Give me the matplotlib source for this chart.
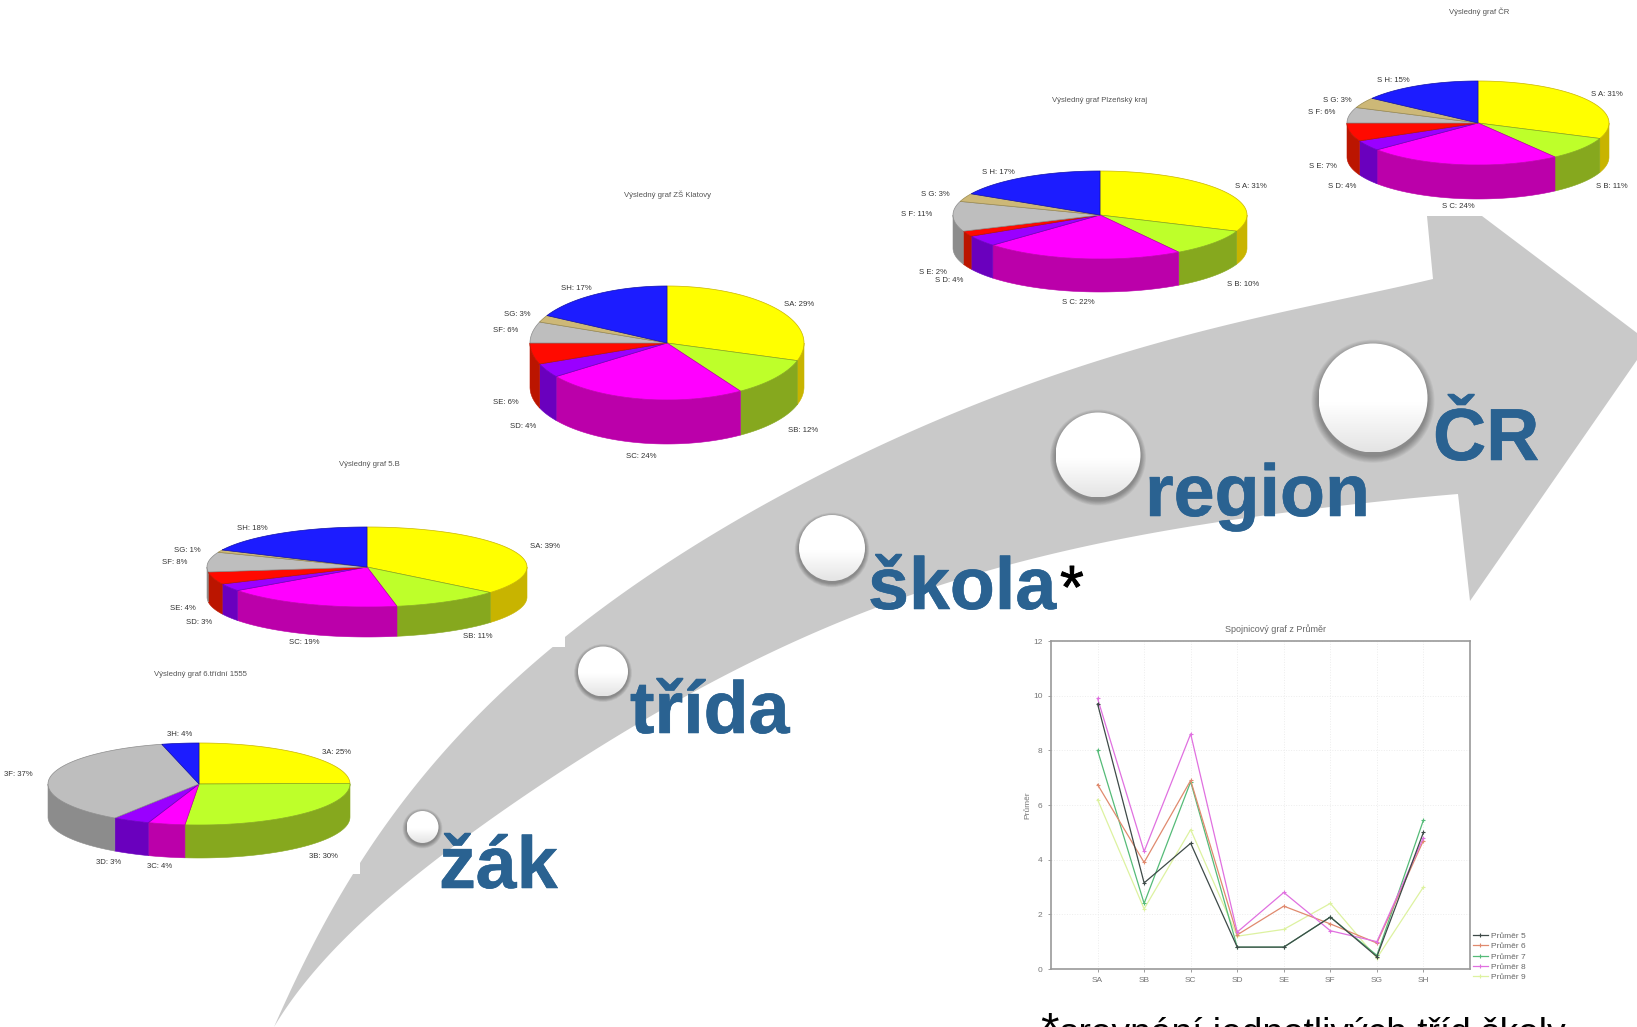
import numpy as np
import matplotlib
matplotlib.use("Agg")
import matplotlib.pyplot as plt
import matplotlib.patheffects as pe
from matplotlib.patches import Polygon, Circle, Rectangle
from matplotlib.colors import LinearSegmentedColormap

plt.rcParams['font.family'] = ['Liberation Sans', 'DejaVu Sans']

# ---------- data ----------
codes6 = ['A', 'B', 'C', 'D', 'F', 'H']
codes8 = ['A', 'B', 'C', 'D', 'E', 'F', 'G', 'H']

zak_values = [25, 27, 4, 4, 37, 4]
zak_pcts = [25, 30, 4, 3, 37, 4]
trida_values = [36, 11, 18, 3, 5, 8, 1, 18]
trida_pcts = [39, 11, 19, 3, 4, 8, 1, 18]
skola_values = [30, 11, 24, 4, 6, 6, 2, 17]
skola_pcts = [29, 12, 24, 4, 6, 6, 3, 17]
region_values = [31, 10, 22, 4, 2, 11, 3, 17]
region_pcts = [31, 10, 22, 4, 2, 11, 3, 17]
cr_values = [31, 9, 24, 4, 7, 6, 4, 15]
cr_pcts = [31, 11, 24, 4, 7, 6, 3, 15]

zak_title = 'Výsledný graf 6.třídní 1555'
trida_title = 'Výsledný graf 5.B'
skola_title = 'Výsledný graf ZŠ Klatovy'
region_title = 'Výsledný graf Plzeňský kraj'
cr_title = 'Výsledný graf ČR'

line_categories = ['SA', 'SB', 'SC', 'SD', 'SE', 'SF', 'SG', 'SH']
prumer5 = [9.7, 3.15, 4.6, 0.8, 0.8, 1.9, 0.45, 5.0]
prumer6 = [6.75, 3.9, 6.9, 1.25, 2.3, 1.65, 0.95, 4.7]
prumer7 = [8.0, 2.4, 6.85, 0.8, 0.8, 1.9, 0.5, 5.45]
prumer8 = [9.9, 4.3, 8.6, 1.35, 2.8, 1.4, 1.0, 4.8]
prumer9 = [6.2, 2.2, 5.1, 1.2, 1.45, 2.4, 0.4, 3.0]

steps = ['žák', 'třída', 'škola', 'region', 'ČR']

# ---------- styles / layout ----------
TOP = {'A': '#FFFF00', 'B': '#BEFF2A', 'C': '#FF00FF', 'D': '#9A00FF',
       'E': '#FF0A00', 'F': '#BEBEBE', 'G': '#CDB877', 'H': '#1C1CFF'}
SIDE = {'A': '#C8B400', 'B': '#86A81E', 'C': '#BB00AA', 'D': '#6A00BE',
        'E': '#BB1500', 'F': '#8C8C8C', 'G': '#9A8A50', 'H': '#1010AA'}

W, H = 1637, 1027
fig = plt.figure(figsize=(W / 100, H / 100), dpi=100, facecolor='white')
bg = fig.add_axes([0, 0, 1, 1], zorder=1)
bg.set_xlim(0, W)
bg.set_ylim(H, 0)
bg.axis('off')

GRAY = '#C9C9C9'
BLUE = '#2A6291'

# arrow outline (decorative shape, pixel layout)
upper = [(274, 1027), (310, 950), (354, 874), (403, 800), (474, 720), (553, 647), (587, 620),
         (680, 553), (780, 497), (851, 460), (959, 410), (1066, 372), (1173, 338),
         (1280, 313), (1433, 279)]
head = [(1427, 216), (1482, 216), (1637, 333), (1637, 360), (1470, 601)]
lower = [(1458, 494), (1280, 513), (1173, 530), (1066, 550), (959, 580), (869, 610), (798, 640),
         (760, 657), (689, 695), (617, 737), (546, 781), (474, 831), (403, 886), (331, 953),
         (274, 1027)]


def smooth(points, deg=6, n=300):
    """Low-order curve through the outline points, anchored at both ends."""
    p = np.array(points, float)
    t = np.r_[0, np.cumsum(np.hypot(*np.diff(p, axis=0).T))]
    t = t / t[-1]
    w = np.ones(len(p))
    w[[0, -1]] = 50
    tt = np.linspace(0, 1, n)
    xx = np.polyval(np.polyfit(t, p[:, 0], deg, w=w), tt)
    yy = np.polyval(np.polyfit(t, p[:, 1], deg, w=w), tt)
    return list(zip(xx, yy))


outline = smooth(upper) + head + smooth(lower)
bg.add_patch(Polygon(np.array(outline), closed=True, fc=GRAY, ec='none', zorder=1))


def draw_pie(cx, cy, rx, ry, depth, values, codes, pcts, prefix, title, title_xy, label_xy,
             white_box=None, fs=5.6):
    if white_box is not None:
        bg.add_patch(Rectangle((white_box[0], white_box[1]), white_box[2], white_box[3],
                               fc='white', ec='none', zorder=2))
    v = np.array(values, float)
    edges = np.r_[0, np.cumsum(v)] / v.sum() * 2 * np.pi
    for a, b, c in zip(edges[:-1], edges[1:], codes):
        lo, hi = max(a, np.pi / 2), min(b, 3 * np.pi / 2)
        if hi > lo:
            th = np.linspace(lo, hi, 60)
            xs = cx + rx * np.sin(th)
            ys = cy - ry * np.cos(th)
            poly = np.r_[np.c_[xs, ys], np.c_[xs, ys + depth][::-1]]
            bg.add_patch(Polygon(poly, closed=True, fc=SIDE[c], ec=SIDE[c], lw=0.4, zorder=3))
    for a, b, c in zip(edges[:-1], edges[1:], codes):
        th = np.linspace(a, b, 80)
        xs = cx + rx * np.sin(th)
        ys = cy - ry * np.cos(th)
        poly = np.r_[[[cx, cy]], np.c_[xs, ys]]
        bg.add_patch(Polygon(poly, closed=True, fc=TOP[c], ec=SIDE[c], lw=0.5, zorder=4))
    bg.text(title_xy[0], title_xy[1], title, ha='center', va='center', fontsize=fs,
            color='#555555', zorder=6)
    for c, p, (lx, ly) in zip(codes, pcts, label_xy):
        bg.text(lx, ly, f'{prefix}{c}: {p}%', ha='center', va='center', fontsize=fs,
                color='#333333', zorder=6)


draw_pie(199, 784, 151, 41, 33, zak_values, codes6, zak_pcts, '3', zak_title, (200, 674),
         [(337, 753), (323, 857), (160, 867), (109, 863), (18, 775), (180, 734)],
         white_box=(0, 660, 360, 214))
draw_pie(367, 567, 160, 40, 30, trida_values, codes8, trida_pcts, 'S', trida_title, (369, 464),
         [(545, 547), (478, 637), (304, 642), (199, 623), (183, 609), (175, 562), (187, 550), (252, 529)],
         white_box=(150, 450, 415, 197))
draw_pie(667, 343, 137, 57, 44, skola_values, codes8, skola_pcts, 'S', skola_title, (667, 195),
         [(799, 304), (803, 431), (641, 456), (523, 426), (506, 402), (506, 331), (517, 315), (576, 288)])
draw_pie(1100, 215, 147, 44, 33, region_values, codes8, region_pcts, 'S ', region_title, (1100, 101),
         [(1251, 187), (1243, 284), (1078, 302), (949, 281), (933, 272), (917, 215), (935, 195), (998, 173)])
draw_pie(1478, 123, 131, 42, 34, cr_values, codes8, cr_pcts, 'S ', cr_title, (1479, 12),
         [(1607, 94), (1612, 187), (1458, 207), (1342, 186), (1323, 167), (1322, 113), (1337, 100), (1393, 81)],
         white_box=(1280, 0, 357, 216))

# glossy circles
grad = LinearSegmentedColormap.from_list('g', [(0, '#FFFFFF'), (0.55, '#FFFFFF'), (1, '#E4E4E4')])
circles = [(422.5, 827, 16), (603, 671.5, 25), (832, 548, 33), (1098, 455, 42.5), (1373, 398, 54.5)]
for cx, cy, r in circles:
    off = max(1.5, r * 0.06)
    spread = max(4, r * 0.13)
    layers = 8
    for k in range(layers, 0, -1):
        bg.add_patch(Circle((cx, cy + off), r + k * spread / layers, fc='black', ec='none',
                            alpha=0.045, zorder=7))
    im = bg.imshow(np.linspace(0, 1, 128)[:, None], cmap=grad, aspect='auto',
                   extent=(cx - r, cx + r, cy + r, cy - r), zorder=8, vmin=0, vmax=1)
    clip = Circle((cx, cy), r, transform=bg.transData, fc='none', ec='none')
    bg.add_patch(clip)
    im.set_clip_path(clip)
bg.set_xlim(0, W)
bg.set_ylim(H, 0)

# step labels
step_xy = [(439, 888), (630, 733), (868, 609), (1145, 516), (1433, 460)]
heavy = [pe.withStroke(linewidth=0.4, foreground=BLUE)]
for s, (x, y) in zip(steps, step_xy):
    bg.text(x, y, s, fontsize=53, fontweight='bold', color=BLUE, ha='left', va='baseline',
            zorder=9, path_effects=heavy)
bg.text(1060, 608, '*', fontsize=44, color='black', ha='left', va='baseline', zorder=9,
        path_effects=[pe.withStroke(linewidth=0.6, foreground='black')])

# footnote, cut off by the lower edge as in the slide
bg.text(1040, 1045, '*', fontsize=34, color='black', ha='left', va='baseline', zorder=9)
bg.text(1060, 1044, 'srovnání jednotlivých tříd školy', fontsize=26.7, color='black',
        ha='left', va='baseline', zorder=9)

# line chart
L, R, T, B = 1051, 1470, 641, 969
ax = fig.add_axes([L / W, 1 - B / H, (R - L) / W, (B - T) / H], zorder=3, facecolor='white')
x = np.arange(len(line_categories))
series = [('Průměr 9', prumer9, '#DDF2A0'), ('Průměr 7', prumer7, '#55BB78'),
          ('Průměr 6', prumer6, '#E08A6E'), ('Průměr 8', prumer8, '#E070E0'),
          ('Průměr 5', prumer5, '#3E4A48')]
for name, vals, col in series:
    ax.plot(x, vals, color=col, lw=0.9, marker='+', ms=3.5, mew=0.8, label=name)
ax.set_xlim(-1, 8)
ax.set_ylim(0, 12)
ax.set_xticks(x, line_categories)
ax.set_yticks(range(0, 13, 2))
ax.grid(True, color='#EDEDED', lw=0.7, ls=':')
ax.set_axisbelow(True)
ax.tick_params(labelsize=6, colors='#777777', length=2, width=0.5, pad=4)
for s in ax.spines.values():
    s.set_color('#9A9A9A')
    s.set_linewidth(1.2)
ax.text(0.5362, 1.035, 'Spojnicový graf z Průměr', transform=ax.transAxes, ha='center', va='center',
        fontsize=6.5, color='#666666')
ax.set_ylabel('Průměr', fontsize=6, color='#777777', labelpad=1)
handles, labels = ax.get_legend_handles_labels()
order = [labels.index(f'Průměr {n}') for n in (5, 6, 7, 8, 9)]
ax.legend([handles[i] for i in order], [labels[i] for i in order],
          loc='lower left', bbox_to_anchor=(1.0, -0.045), frameon=False, fontsize=6,
          labelcolor='#666666', handlelength=1.8, handletextpad=0.4, labelspacing=0.28,
          borderpad=0, borderaxespad=0.35)

fig.savefig('out.png', dpi=100, facecolor='white')
